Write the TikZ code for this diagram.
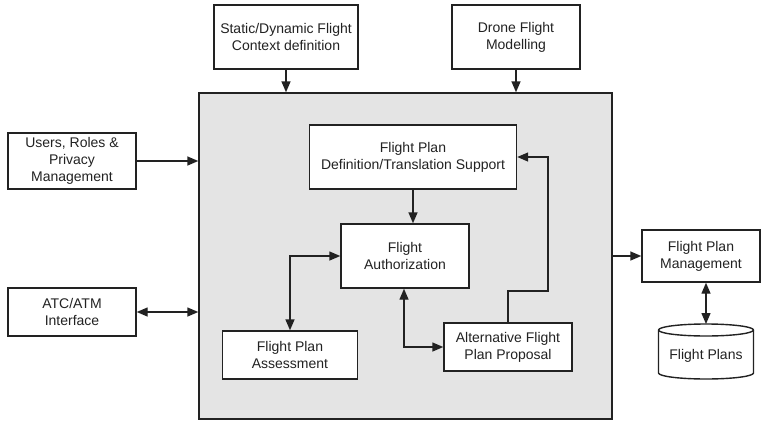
\documentclass[tikz,border=0pt]{standalone}
\usepackage{fontspec}
\setmainfont{Liberation Sans}
\usetikzlibrary{arrows.meta}
\definecolor{ln}{HTML}{222222}
\definecolor{bg}{HTML}{E4E4E4}
\begin{document}
\begin{tikzpicture}[x=1pt,y=-1pt,
  box/.style={draw=ln,line width=1.4pt,fill=white,inner sep=0pt,align=center,
    font=\fontsize{14}{17}\selectfont,text=ln},
  conn/.style={draw=ln,line width=1.4pt,-{Triangle[length=11pt,width=9pt]}},
  bconn/.style={draw=ln,line width=1.4pt,{Triangle[length=11pt,width=9pt]}-{Triangle[length=11pt,width=9pt]}}]
\useasboundingbox (0,0) rectangle (761,421);
\node[box,fill=bg,minimum width=413,minimum height=326] (big) at (405.5,256) {};
\node[box,minimum width=144,minimum height=64] (static) at (286,37) {Static/Dynamic Flight\\Context definition};
\node[box,minimum width=128,minimum height=64] (drone) at (516,37) {Drone Flight\\Modelling};
\node[box,minimum width=128,minimum height=56] (users) at (72,161) {Users, Roles \&\\Privacy\\Management};
\node[box,minimum width=128,minimum height=48] (atc) at (72,312) {ATC/ATM\\Interface};
\node[box,minimum width=207,minimum height=64] (def) at (413,157) {Flight Plan\\Definition/Translation Support};
\node[box,minimum width=128,minimum height=64] (auth) at (405,256) {Flight\\Authorization};
\node[box,minimum width=135,minimum height=48] (assess) at (290,355) {Flight Plan\\Assessment};
\node[box,minimum width=128,minimum height=48] (alt) at (508,347) {Alternative Flight\\Plan Proposal};
\node[box,minimum width=118,minimum height=52] (fpm) at (701,256) {Flight Plan\\Management};
% cylinder
\draw[draw=ln,line width=1.4pt,fill=white] (658.5,330) -- (658.5,373)
  arc[start angle=180,end angle=0,x radius=47.5,y radius=6] -- (753.5,330)
  arc[start angle=0,end angle=-180,x radius=47.5,y radius=6] -- cycle;
\draw[draw=ln,line width=1.4pt] (658.5,330) arc[start angle=180,end angle=0,x radius=47.5,y radius=6];
\node[inner sep=0pt,font=\fontsize{14}{17}\selectfont,text=ln] (db) at (706,356) {Flight Plans};
\coordinate (dbtop) at (706,324);
\coordinate (r1) at (548,291);
% connectors
\draw[conn] (static.south) -- (static.south |- big.north);
\draw[conn] (drone.south) -- (drone.south |- big.north);
\draw[conn] (users.east) -- (users.east -| big.west);
\draw[bconn] (atc.east) -- (atc.east -| big.west);
\draw[conn] (def.south) -- (def.south |- auth.north);
\draw[bconn] (auth.west) -| (assess.north);
\draw[bconn] ([xshift=-1pt]auth.south) |- (alt.west);
\draw[conn] (alt.north) |- (r1) |- (def.east);
\draw[conn] (big.east |- fpm.west) -- (fpm.west);
\draw[bconn] (fpm.south -| dbtop) -- (dbtop);
\end{tikzpicture}
\end{document}
